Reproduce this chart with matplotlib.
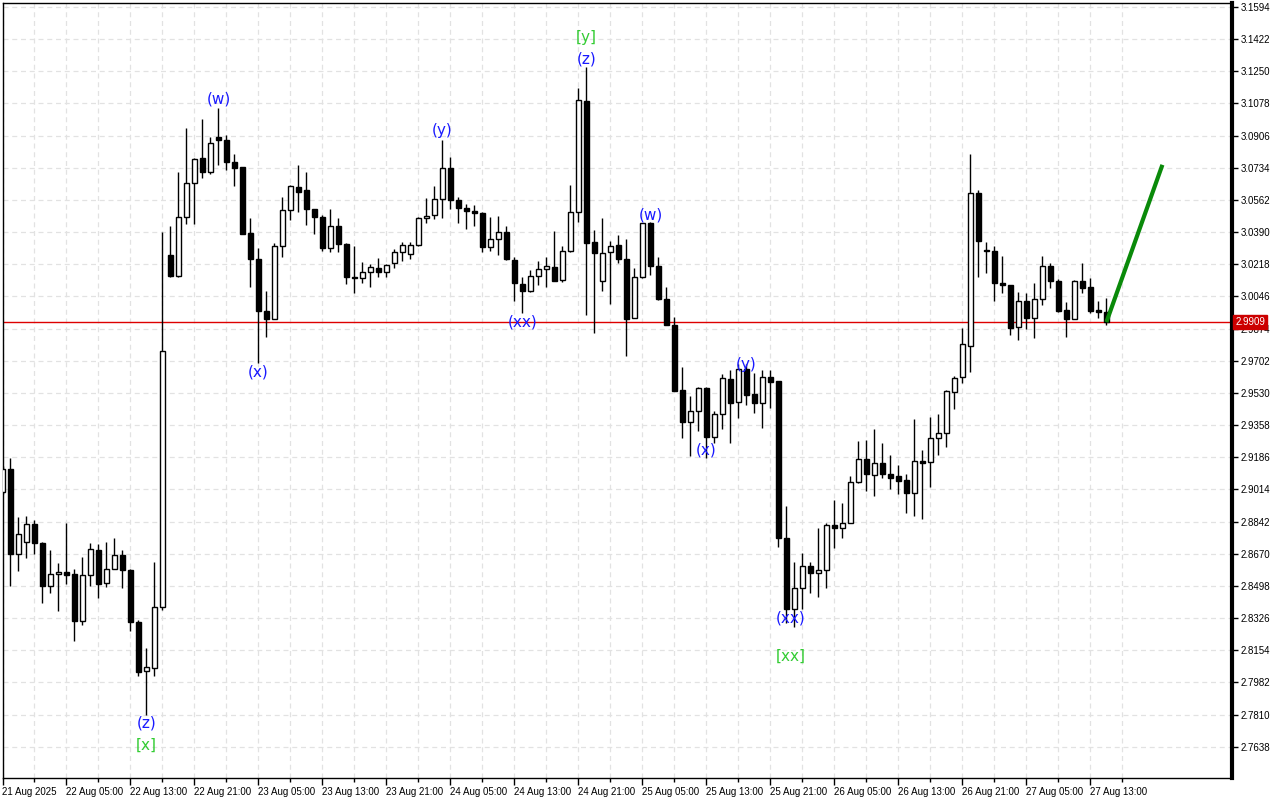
import matplotlib
matplotlib.use('Agg')
import matplotlib.pyplot as plt
from matplotlib.transforms import blended_transform_factory

# ---------------- data ----------------
opens = [2.9002, 2.9122, 2.8667, 2.8734, 2.8828, 2.8729, 2.8499, 2.8560, 2.8571, 2.8560,
         2.8312, 2.8555, 2.8690, 2.8515, 2.8587, 2.8662, 2.8581, 2.8306, 2.8041, 2.8061,
         2.8383, 3.0268, 3.0158, 3.0473, 3.0652, 3.0785, 3.0711, 3.0900, 3.0885, 3.0767,
         3.0737, 3.0384, 3.0247, 2.9970, 2.9927, 3.0316, 3.0509, 3.0630, 3.0616, 3.0513,
         3.0470, 3.0307, 3.0423, 3.0325, 3.0149, 3.0146, 3.0179, 3.0197, 3.0176, 3.0226,
         3.0286, 3.0272, 3.0321, 3.0466, 3.0481, 3.0566, 3.0732, 3.0563, 3.0518, 3.0505,
         3.0491, 3.0309, 3.0352, 3.0390, 3.0241, 3.0112, 3.0076, 3.0158, 3.0192, 3.0202,
         3.0136, 3.0290, 3.0500, 3.1090, 3.0335, 3.0129, 3.0283, 3.0323, 3.0248, 2.9929,
         3.0149, 3.0441, 3.0211, 3.0033, 2.9894, 2.9546, 2.9373, 2.9434, 2.9555, 2.9296,
         2.9416, 2.9604, 2.9480, 2.9658, 2.9525, 2.9475, 2.9617, 2.9594, 2.8753, 2.8373,
         2.8485, 2.8606, 2.8565, 2.8581, 2.8822, 2.8806, 2.8833, 2.9052, 2.9175, 2.9091,
         2.9154, 2.9095, 2.9086, 2.9065, 2.8997, 2.9166, 2.9162, 2.9288, 2.9314, 2.9537,
         2.9617, 2.9783, 3.0598, 3.0295, 3.0290, 3.0120, 3.0109, 2.9884, 3.0020, 2.9933,
         3.0031, 3.0208, 3.0131, 2.9972, 2.9924, 3.0128, 3.0095, 2.9972, 2.9964]
highs = [2.9139, 2.9181, 2.8865, 2.8872, 2.8851, 2.8733, 2.8690, 2.8619, 2.8834, 2.8587,
         2.8651, 2.8726, 2.8722, 2.8733, 2.8753, 2.8690, 2.8588, 2.8315, 2.8164, 2.8624,
         3.0393, 3.0423, 3.0711, 3.0946, 3.0787, 3.0996, 3.0900, 3.1053, 3.0910, 3.0809,
         3.0741, 3.0468, 3.0304, 3.0077, 3.0331, 3.0580, 3.0641, 3.0750, 3.0712, 3.0516,
         3.0482, 3.0514, 3.0468, 3.0334, 3.0316, 3.0229, 3.0220, 3.0250, 3.0220, 3.0299,
         3.0336, 3.0336, 3.0473, 3.0572, 3.0637, 3.0884, 3.0791, 3.0577, 3.0541, 3.0537,
         3.0500, 3.0470, 3.0478, 3.0423, 3.0259, 3.0149, 3.0188, 3.0238, 3.0257, 3.0397,
         3.0316, 3.0643, 3.1160, 3.1272, 3.0402, 3.0465, 3.0345, 3.0375, 3.0352, 3.0200,
         3.0441, 3.0446, 3.0256, 3.0099, 2.9935, 2.9667, 2.9514, 2.9564, 2.9560, 2.9435,
         2.9632, 2.9653, 2.9685, 2.9683, 2.9639, 2.9653, 2.9653, 2.9596, 2.8925, 2.8627,
         2.8672, 2.8624, 2.8806, 2.8833, 2.8958, 2.8940, 2.9086, 2.9273, 2.9279, 2.9336,
         2.9261, 2.9198, 2.9145, 2.9097, 2.9391, 2.9225, 2.9400, 2.9416, 2.9545, 2.9621,
         2.9876, 3.0809, 3.0616, 3.0336, 3.0316, 3.0263, 3.0109, 3.0069, 3.0063, 3.0117,
         3.0263, 3.0224, 3.0138, 3.0015, 3.0134, 3.0224, 3.0145, 3.0022, 3.0036]
lows = [2.8990, 2.8499, 2.8579, 2.8649, 2.8669, 2.8408, 2.8462, 2.8365, 2.8508, 2.8205,
        2.8287, 2.8499, 2.8435, 2.8494, 2.8587, 2.8488, 2.8258, 2.8018, 2.7807, 2.8018,
        2.8370, 3.0152, 3.0152, 3.0434, 3.0434, 3.0682, 3.0700, 3.0750, 3.0723, 3.0637,
        3.0381, 3.0099, 2.9689, 2.9831, 2.9924, 3.0256, 3.0456, 3.0500, 3.0427, 3.0382,
        3.0291, 3.0286, 3.0286, 3.0112, 3.0063, 3.0120, 3.0099, 3.0152, 3.0152, 3.0197,
        3.0238, 3.0248, 3.0316, 3.0441, 3.0459, 3.0466, 3.0513, 3.0437, 3.0407, 3.0423,
        3.0286, 3.0290, 3.0268, 3.0241, 3.0022, 2.9960, 3.0070, 3.0106, 3.0097, 3.0128,
        3.0122, 3.0286, 3.0446, 2.9947, 2.9849, 3.0073, 3.0004, 3.0226, 2.9729, 2.9929,
        3.0146, 3.0161, 3.0028, 2.9891, 2.9541, 2.9288, 2.9195, 2.9328, 2.9181, 2.9261,
        2.9337, 2.9261, 2.9398, 2.9466, 2.9421, 2.9341, 2.9448, 2.8708, 2.8300, 2.8280,
        2.8373, 2.8462, 2.8440, 2.8488, 2.8702, 2.8756, 2.8833, 2.9047, 2.9007, 2.8981,
        2.9077, 2.9015, 2.8988, 2.8890, 2.8874, 2.8856, 2.9029, 2.9198, 2.9243, 2.9444,
        2.9582, 2.9644, 3.0152, 3.0170, 3.0022, 3.0067, 2.9840, 2.9815, 2.9870, 2.9826,
        3.0002, 3.0092, 2.9962, 2.9831, 2.9924, 3.0063, 2.9956, 2.9933, 2.9895]
closes = [2.9122, 2.8667, 2.8774, 2.8828, 2.8729, 2.8499, 2.8560, 2.8571, 2.8558, 2.8312,
          2.8555, 2.8694, 2.8510, 2.8587, 2.8662, 2.8581, 2.8306, 2.8036, 2.8062, 2.8383,
          2.9756, 3.0158, 3.0472, 3.0652, 3.0782, 3.0711, 3.0866, 3.0885, 3.0767, 3.0732,
          3.0381, 3.0247, 2.9970, 2.9927, 3.0316, 3.0509, 3.0636, 3.0607, 3.0513, 3.0470,
          3.0307, 3.0423, 3.0325, 3.0149, 3.0146, 3.0179, 3.0202, 3.0176, 3.0215, 3.0286,
          3.0322, 3.0322, 3.0468, 3.0478, 3.0566, 3.0732, 3.0563, 3.0518, 3.0505, 3.0491,
          3.0309, 3.0352, 3.0390, 3.0245, 3.0117, 3.0076, 3.0158, 3.0192, 3.0209, 3.0131,
          3.0290, 3.0500, 3.1096, 3.0331, 3.0277, 3.0277, 3.0318, 3.0248, 2.9926, 3.0149,
          3.0438, 3.0211, 3.0033, 2.9894, 2.9541, 2.9373, 2.9434, 2.9555, 2.9296, 2.9416,
          2.9609, 2.9475, 2.9658, 2.9519, 2.9475, 2.9617, 2.9587, 2.8753, 2.8373, 2.8485,
          2.8606, 2.8565, 2.8581, 2.8822, 2.8809, 2.8833, 2.9052, 2.9175, 2.9095, 2.9154,
          2.9095, 2.9077, 2.9061, 2.8997, 2.9166, 2.9157, 2.9288, 2.9314, 2.9541, 2.9609,
          2.9790, 3.0598, 3.0345, 3.0291, 3.0120, 3.0109, 2.9879, 3.0020, 2.9933, 3.0031,
          3.0208, 3.0131, 2.9970, 2.9924, 3.0128, 3.0090, 2.9970, 2.9964, 2.9909]

time_labels = ["21 Aug 2025", "22 Aug 05:00", "22 Aug 13:00", "22 Aug 21:00",
               "23 Aug 05:00", "23 Aug 13:00", "23 Aug 21:00", "24 Aug 05:00",
               "24 Aug 13:00", "24 Aug 21:00", "25 Aug 05:00", "25 Aug 13:00",
               "25 Aug 21:00", "26 Aug 05:00", "26 Aug 13:00", "26 Aug 21:00",
               "27 Aug 05:00", "27 Aug 13:00"]
bars_per_label = 8

price_ticks = [3.1594, 3.1422, 3.1250, 3.1078, 3.0906, 3.0734, 3.0562, 3.0390,
               3.0218, 3.0046, 2.9874, 2.9702, 2.9530, 2.9358, 2.9186, 2.9014,
               2.8842, 2.8670, 2.8498, 2.8326, 2.8154, 2.7982, 2.7810, 2.7638]

current_price = 2.9909

wave_text = ["(z)", "[x]", "(w)", "(x)", "(y)", "(xx)", "[y]", "(z)", "(w)", "(x)", "(y)", "(xx)", "[xx]"]
wave_bar = [18, 18, 27, 32, 55, 65, 73, 73, 81, 88, 93, 98.5, 98.5]
wave_price = [2.7764, 2.7647, 3.1103, 2.9642, 3.0932, 2.9909, 3.1429, 3.1317,
              3.0482, 2.9225, 2.9680, 2.8326, 2.8123]
wave_degree = ["minor", "major", "minor", "minor", "minor", "minor", "major", "minor",
               "minor", "minor", "minor", "minor", "major"]

forecast_bars = [138, 145]
forecast_prices = [2.9909, 3.0750]

# ---------------- figure ----------------
W, H = 1280, 800
fig = plt.figure(figsize=(W / 100, H / 100), dpi=100)
left, right, top, bottom = 2.5, 1232, 2.5, 778
ax = fig.add_axes([left / W, 1 - bottom / H, (right - left) / W, (bottom - top) / H])

n = len(opens)
xs = list(range(n))
ax.vlines(xs, lows, highs, color='black', linewidth=1.0, zorder=3)
for i in xs:
    o, c = opens[i], closes[i]
    lo, hi = min(o, c), max(o, c)
    fc = 'white' if c >= o else 'black'
    ax.bar(i, hi - lo, bottom=lo, width=0.62, color=fc, edgecolor='black',
           linewidth=1.0, zorder=4)

# current price line
ax.axhline(current_price, color='#dd0000', linewidth=1.0, zorder=2)

# forecast arrow line
ax.plot(forecast_bars, forecast_prices, color='#0a8a0a', linewidth=3, zorder=6,
        solid_capstyle='butt')

# wave labels
for t, xb, yp, d in zip(wave_text, wave_bar, wave_price, wave_degree):
    col = '#1a1aff' if d == 'minor' else '#33cc33'
    ax.text(xb, yp, t, color=col, fontsize=11, ha='center', va='center',
            family='DejaVu Sans', zorder=7)

ax.set_xlim(0.0, 153.7)
ax.set_ylim(2.7471, 3.1618)

# x ticks
major_x = [k * bars_per_label for k in range(len(time_labels))]
minor_x = [m + bars_per_label / 2 for m in major_x]
ax.set_xticks(major_x)
ax.set_xticks(minor_x, minor=True)
ax.set_xticklabels(time_labels, fontsize=7, family='Liberation Sans')
for lbl in ax.get_xticklabels():
    lbl.set_horizontalalignment('left')
ax.tick_params(axis='x', which='major', length=5, width=1, pad=1.5, direction='out')
ax.tick_params(axis='x', which='minor', length=3, width=1, direction='out')

# y ticks on right
ax.yaxis.tick_right()
ax.set_yticks(price_ticks)
ax.set_yticklabels([f"{p:.4f}" for p in price_ticks], fontsize=7, family='Liberation Sans')
ax.tick_params(axis='y', length=4, width=1, pad=2, direction='out')

# grid
ax.grid(True, which='major', axis='both', color='#e2e2e2', linestyle=(0, (4, 3)), linewidth=0.9, zorder=0)
ax.grid(True, which='minor', axis='x', color='#e2e2e2', linestyle=(0, (4, 3)), linewidth=0.9, zorder=0)
ax.set_axisbelow(True)

for s in ['left', 'top', 'bottom']:
    ax.spines[s].set_linewidth(1.0)
ax.spines['right'].set_linewidth(3.0)

# current price tag
tr = blended_transform_factory(ax.transAxes, ax.transData)
ax.text(1.0025, current_price, f"{current_price:.4f}", transform=tr, fontsize=7,
        family='Liberation Sans', color='white', ha='left', va='center', zorder=10,
        clip_on=False,
        bbox=dict(boxstyle='square,pad=0.2', facecolor='#cc0000', edgecolor='#cc0000'))

fig.savefig('out.png', dpi=100)
